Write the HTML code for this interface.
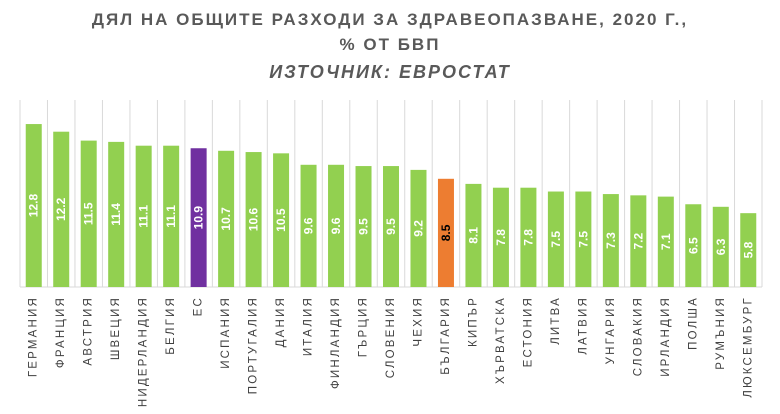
<!DOCTYPE html>
<html><head><meta charset="utf-8"><style>
body{margin:0;background:#fff;width:780px;height:414px;overflow:hidden;font-family:"Liberation Sans","DejaVu Sans",sans-serif}
.t{position:absolute;left:0;width:780px;text-align:center;color:#595959;font-weight:bold;letter-spacing:2px}
</style></head><body>
<div class="t" style="top:10px;font-size:17px">ДЯЛ НА ОБЩИТЕ РАЗХОДИ ЗА ЗДРАВЕОПАЗВАНЕ, 2020 Г.,</div>
<div class="t" style="top:35px;font-size:17px">% ОТ БВП</div>
<div class="t" style="top:62px;font-size:18px;font-style:italic">ИЗТОЧНИК: ЕВРОСТАТ</div>
<svg id="c" width="780" height="414" style="position:absolute;left:0;top:0"></svg>
<script>
const categories=["ГЕРМАНИЯ","ФРАНЦИЯ","АВСТРИЯ","ШВЕЦИЯ","НИДЕРЛАНДИЯ","БЕЛГИЯ","ЕС","ИСПАНИЯ","ПОРТУГАЛИЯ","ДАНИЯ","ИТАЛИЯ","ФИНЛАНДИЯ","ГЪРЦИЯ","СЛОВЕНИЯ","ЧЕХИЯ","БЪЛГАРИЯ","КИПЪР","ХЪРВАТСКА","ЕСТОНИЯ","ЛИТВА","ЛАТВИЯ","УНГАРИЯ","СЛОВАКИЯ","ИРЛАНДИЯ","ПОЛША","РУМЪНИЯ","ЛЮКСЕМБУРГ"];
const values=[12.8,12.2,11.5,11.4,11.1,11.1,10.9,10.7,10.6,10.5,9.6,9.6,9.5,9.5,9.2,8.5,8.1,7.8,7.8,7.5,7.5,7.3,7.2,7.1,6.5,6.3,5.8];
{
const svg=document.getElementById('c');const NS='http://www.w3.org/2000/svg';
const x0=20,x1=762,base=287,unit=12.73,plotTop=100;
const cw=(x1-x0)/categories.length;
const xs=i=>x0+i*cw;const ys=v=>base-v*unit;
function mk(t,a){const e=document.createElementNS(NS,t);for(const k in a)e.setAttribute(k,a[k]);svg.appendChild(e);return e;}
for(let i=0;i<=categories.length;i++){const l=mk('line',{x1:xs(i),x2:xs(i),y1:plotTop,y2:base,stroke:'#d9d9d9','stroke-width':1});

}
const ax=mk('line',{x1:x0,x2:x1,y1:base,y2:base,stroke:'#d9d9d9','stroke-width':1});


categories.forEach((c,i)=>{
 const v=values[i];const cx=xs(i)+cw/2;const bw=16;
 const col=c==='ЕС'?'#7030a0':(c==='БЪЛГАРИЯ'?'#ed7d31':'#92d050');
 const r=mk('rect',{x:cx-bw/2,y:ys(v),width:bw,height:base-ys(v),fill:col});
 
 
 const my=(ys(v)+base)/2;
 const t=mk('text',{x:cx,y:my,transform:`rotate(-90 ${cx} ${my})`,'text-anchor':'middle','dominant-baseline':'central','font-size':12,'font-weight':'bold',fill:c==='БЪЛГАРИЯ'?'#000':'#fff'});
 t.textContent=v.toFixed(1);
 
 
 const ly=296;
 const lb=mk('text',{x:cx,y:ly,transform:`rotate(-90 ${cx} ${ly})`,'text-anchor':'end','dominant-baseline':'central','font-size':11.5,fill:'#404040','letter-spacing':'2.2'});
 lb.textContent=c;
 
 
});
}
</script>
</body></html>
